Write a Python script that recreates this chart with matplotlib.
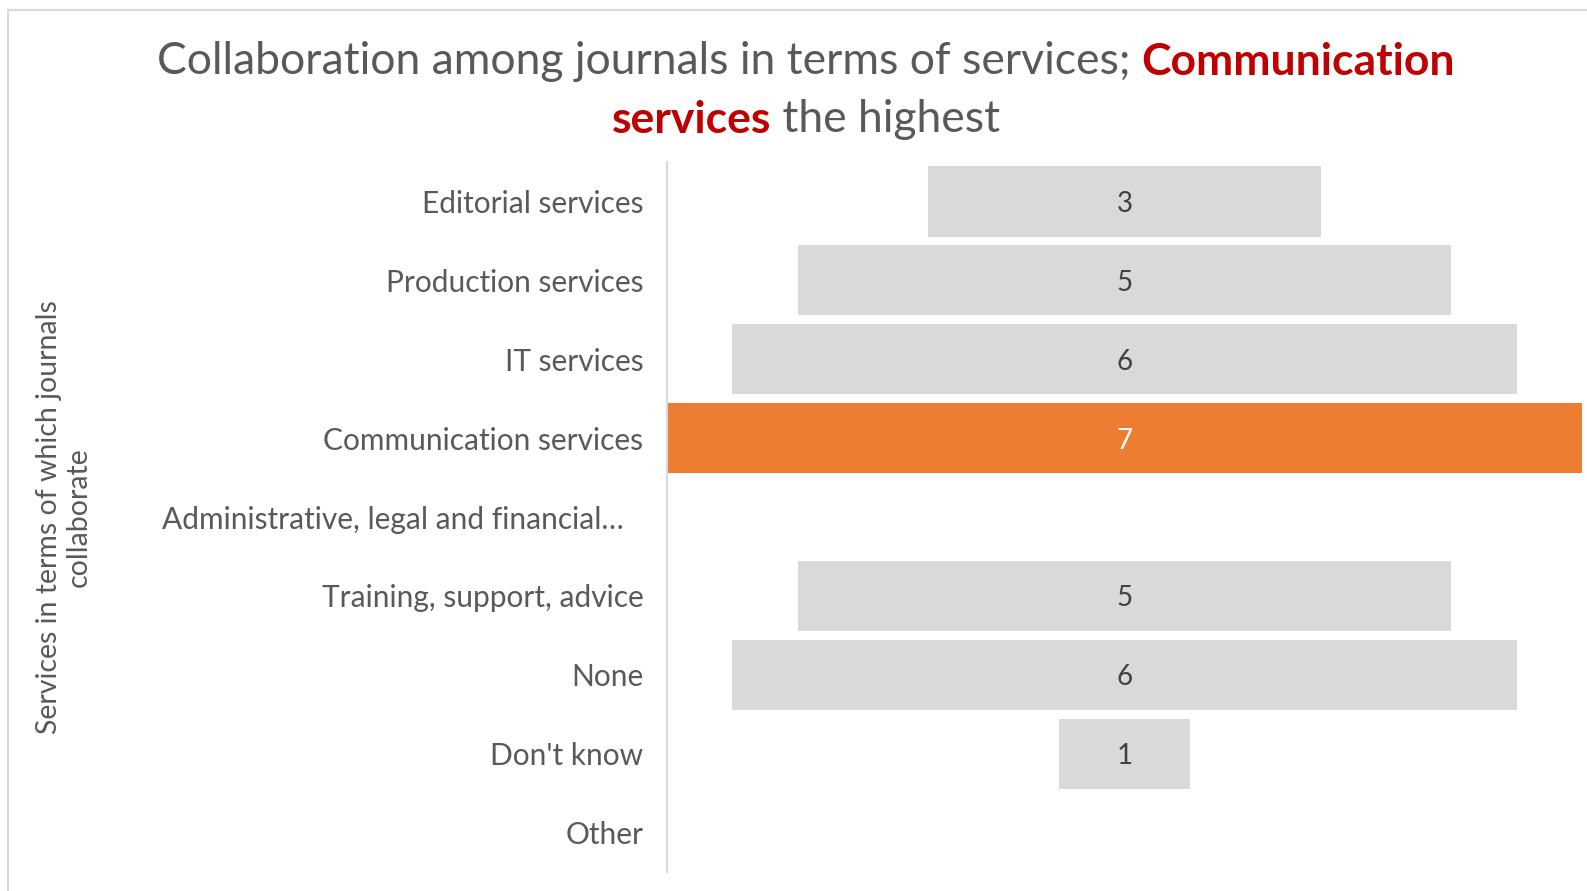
import matplotlib
matplotlib.use("Agg")
import matplotlib.pyplot as plt
from matplotlib.patches import Rectangle
from matplotlib.transforms import ScaledTranslation

plt.rcParams['font.family'] = ['Lato', 'DejaVu Sans']

# Data
categories = [
    "Editorial services",
    "Production services",
    "IT services",
    "Communication services",
    "Administrative, legal and financial\u2026",
    "Training, support, advice",
    "None",
    "Don't know",
    "Other",
]
values = [3, 5, 6, 7, 0, 5, 6, 1, 0]

title_line1 = [("Collaboration among journals in terms of services; ", False),
               ("Communication", True)]
title_line2 = [("services", True), (" the highest", False)]
y_label = "Services in terms of which journals\ncollaborate"

GRAY_TEXT = "#595959"
DARK_TEXT = "#404040"
RED = "#c00000"
BAR_GRAY = "#d9d9d9"
ORANGE = "#ed7d31"

W, H, DPI = 1587, 891, 100
fig = plt.figure(figsize=(W / DPI, H / DPI), dpi=DPI)

# Outer chart border (runs off the right and bottom edges)
fig.patches.append(Rectangle((8 / W, -0.05), 1.1, 1 - 10 / H + 0.05,
                             transform=fig.transFigure, fill=False,
                             edgecolor="#d9d9d9", linewidth=1.5))

ax = fig.add_axes([667 / W, 1 - 872 / H, 915 / W, 710 / H])

vmax = max(values)
ypos = list(range(len(categories)))
colors = [ORANGE if v == vmax else BAR_GRAY for v in values]
lefts = [-v / 2 for v in values]
ax.barh(ypos, values, left=lefts, height=0.89, color=colors)

for y, v in zip(ypos, values):
    if v:
        ax.text(0, y, str(v), ha="center", va="center_baseline", fontsize=20,
                color="white" if v == vmax else DARK_TEXT)

ax.set_xlim(-vmax / 2, vmax / 2)
ax.set_ylim(len(categories) - 0.5, -0.5)
ax.set_yticks(ypos)
ax.set_yticklabels(categories, fontsize=21.5, color=GRAY_TEXT)
ax.tick_params(axis="y", length=0, pad=17)
ax.set_xticks([])
for s in ["top", "right", "bottom"]:
    ax.spines[s].set_visible(False)
ax.spines["left"].set_color("#d9d9d9")
ax.spines["left"].set_linewidth(1.5)

# the truncated label sits a little further left
lbl = ax.get_yticklabels()[4]
lbl.set_transform(lbl.get_transform() + ScaledTranslation(-20 / DPI, 0, fig.dpi_scale_trans))

fig.text(64 / W, 1 - 517 / H, y_label, rotation=90, ha="center", va="center",
         fontsize=20.5, color=GRAY_TEXT, linespacing=1.2)

# Two-line title with highlighted words
renderer = fig.canvas.get_renderer()


def draw_line(parts, yc, xc):
    texts = []
    for s, bold in parts:
        t = fig.text(0, yc, s, fontsize=32, va="center", ha="left",
                     color=RED if bold else GRAY_TEXT,
                     fontweight="bold" if bold else "normal")
        texts.append(t)
    widths = [t.get_window_extent(renderer).width for t in texts]
    x = xc * W - sum(widths) / 2
    for t, w in zip(texts, widths):
        t.set_x(x / W)
        x += w


draw_line(title_line1, 1 - 62 / H, 806 / W)
draw_line(title_line2, 1 - 120 / H, 806 / W)

fig.savefig("out.png", dpi=DPI, facecolor="white")
